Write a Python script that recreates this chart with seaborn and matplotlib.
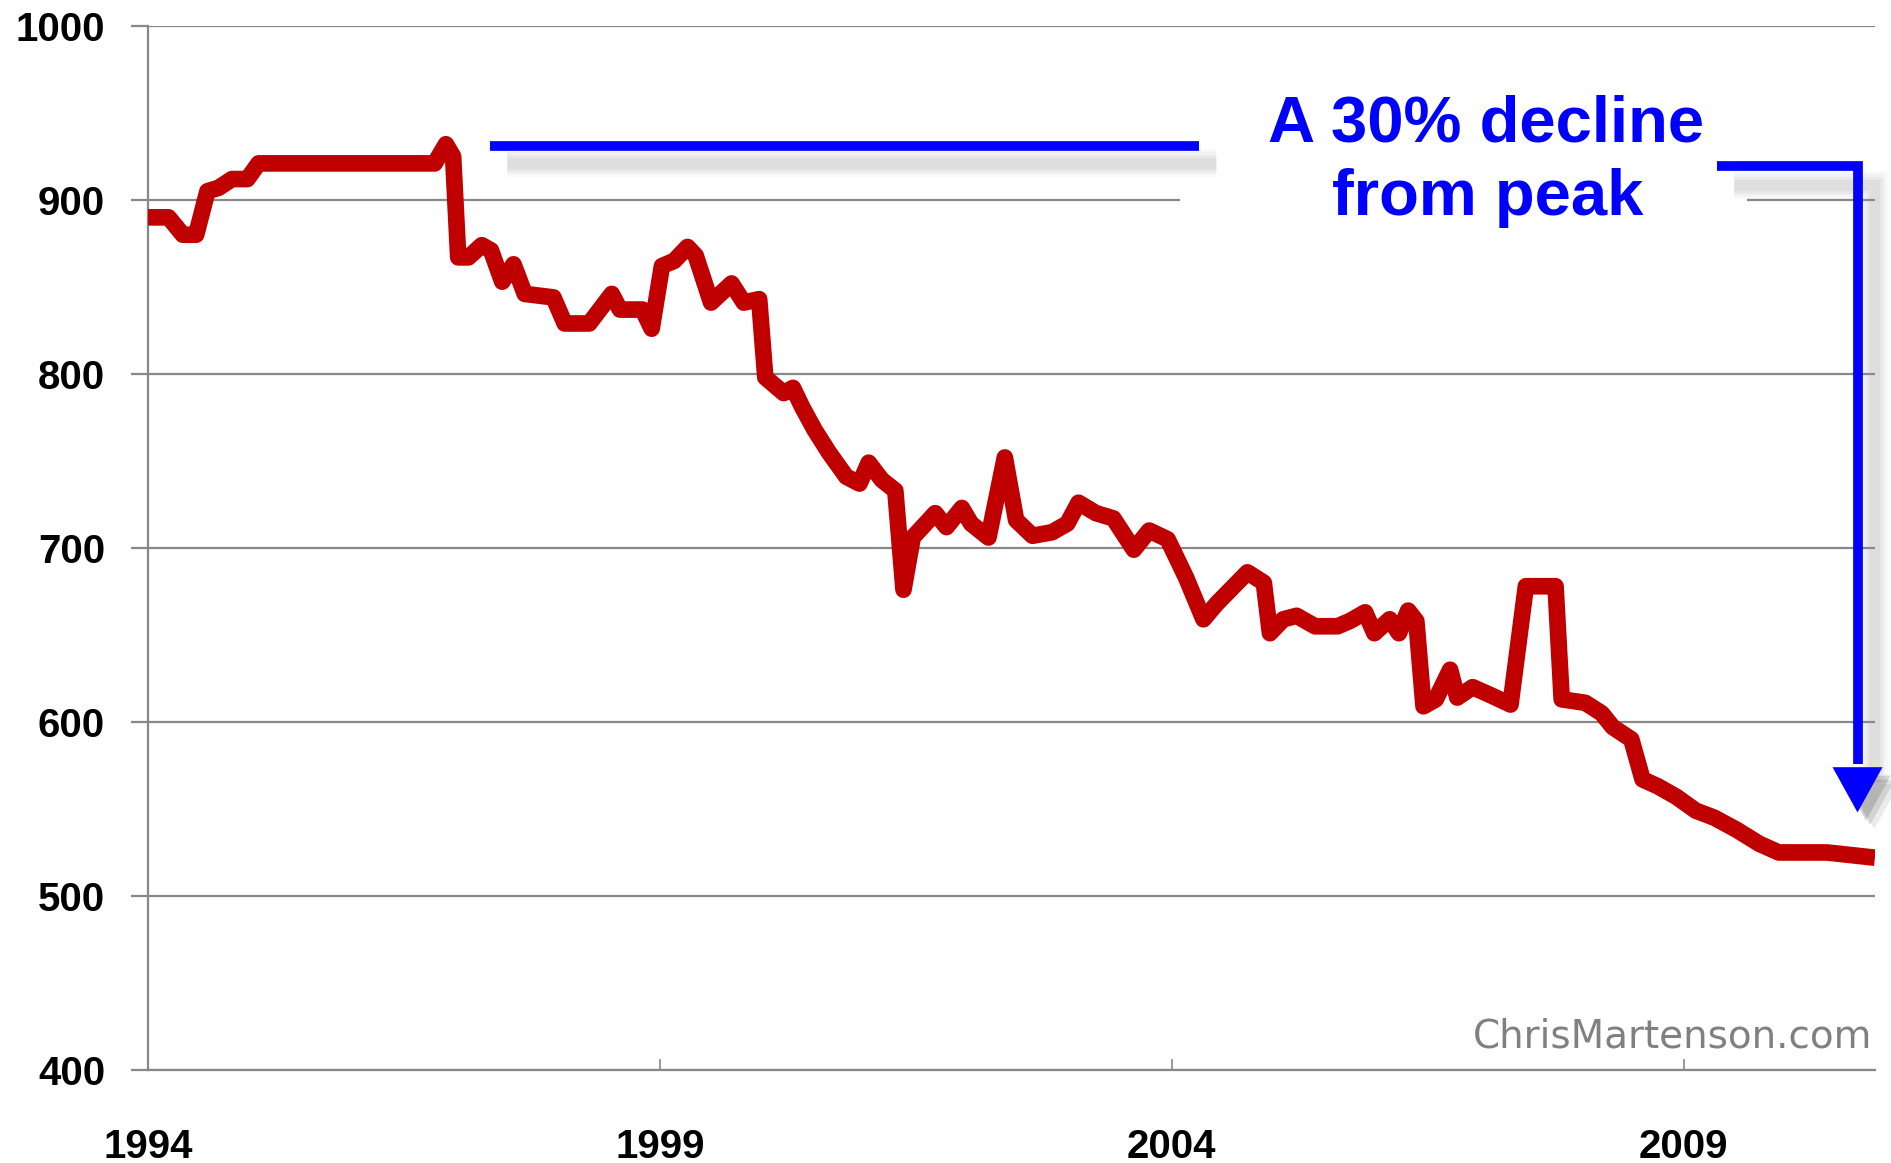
import numpy as np
import pandas as pd
import seaborn as sns
import matplotlib.pyplot as plt
import matplotlib.patheffects as pe
from matplotlib.patches import Rectangle

# ------------------- Data -------------------
years = [1994.00, 1994.20, 1994.34, 1994.47, 1994.58, 1994.69, 1994.82, 1994.97,
         1995.08, 1996.80, 1996.91, 1996.98, 1997.03, 1997.13, 1997.26, 1997.35,
         1997.46, 1997.57, 1997.68, 1997.96, 1998.07, 1998.31, 1998.53, 1998.61,
         1998.83, 1998.92, 1999.02, 1999.14, 1999.27, 1999.35, 1999.50, 1999.70,
         1999.82, 1999.97, 2000.03, 2000.21, 2000.30, 2000.39, 2000.51, 2000.65,
         2000.82, 2000.95, 2001.04, 2001.17, 2001.30, 2001.38, 2001.47, 2001.69,
         2001.80, 2001.95, 2002.04, 2002.21, 2002.37, 2002.48, 2002.64, 2002.83,
         2002.98, 2003.09, 2003.26, 2003.43, 2003.63, 2003.78, 2003.96, 2004.14,
         2004.31, 2004.44, 2004.74, 2004.90, 2004.96, 2005.09, 2005.22, 2005.40,
         2005.62, 2005.74, 2005.89, 2005.98, 2006.13, 2006.22, 2006.31, 2006.39,
         2006.46, 2006.58, 2006.72, 2006.79, 2006.94, 2007.13, 2007.31, 2007.46,
         2007.75, 2007.81, 2008.04, 2008.20, 2008.31, 2008.49, 2008.60, 2008.75,
         2008.93, 2009.12, 2009.30, 2009.52, 2009.74, 2009.93, 2010.40, 2010.87]
values = [890, 890, 880, 880, 905, 907, 912, 912,
          921, 921, 932, 925, 867, 867, 874, 871,
          853, 863, 846, 844, 829, 829, 846, 837,
          837, 826, 862, 865, 873, 868, 841, 852,
          841, 843, 798, 789, 792, 781, 768, 755,
          741, 737, 749, 739, 733, 676, 706, 720,
          712, 723, 714, 706, 752, 716, 707, 709,
          714, 726, 720, 717, 699, 710, 705, 683,
          659, 668, 686, 680, 651, 659, 661, 655,
          655, 658, 663, 651, 659, 651, 664, 658,
          609, 613, 630, 614, 620, 615, 610, 678,
          678, 613, 611, 605, 597, 590, 567, 563,
          557, 549, 545, 538, 530, 525, 525, 522]

y_ticks = [400, 500, 600, 700, 800, 900, 1000]
x_ticks = [1994, 1999, 2004, 2009]
x_labels = ["1994", "1999", "2004", "2009"]

peak_level = 931
bracket_level = 919.5
arrow_x = 2010.70
arrow_tip = 548
arrow_base = 574

df = pd.DataFrame({"year": years, "value": values})

# ------------------- Style -------------------
sns.set_style("white")
plt.rcParams['font.family'] = ['Liberation Sans', 'DejaVu Sans']

GRID = '#888888'
BLUE = '#0000FF'

fig = plt.figure(figsize=(18.91, 11.63), dpi=100)
ax = fig.add_axes([0.0783, 0.0800, 0.9132, 0.8977])

# white patch behind the annotation text (breaks the 900 gridline)
ax.add_patch(Rectangle((2004.08, 880), 5.54, 90, facecolor='white',
                       edgecolor='none', zorder=1.5))

# ------------------- Main line -------------------
sns.lineplot(data=df, x="year", y="value", ax=ax, color='#C00000',
             linewidth=12, estimator=None, sort=False, zorder=3,
             solid_joinstyle='round', solid_capstyle='butt')


def soft_shadow(dx, dy):
    # stacked translucent strokes to fake a blurred drop shadow
    fx = []
    for w, a in [(20, 0.06), (16, 0.08), (12, 0.10), (8, 0.12)]:
        fx.append(pe.SimpleLineShadow(offset=(dx, dy), shadow_color='#999999',
                                      alpha=a, linewidth=w))
    fx.append(pe.Normal())
    return fx


# top blue line at the peak level
ax.plot([1997.34, 2004.27], [peak_level, peak_level], color=BLUE, lw=7,
        solid_capstyle='butt', zorder=4, path_effects=soft_shadow(12, -12))

# bracket down to the arrow
ax.plot([2009.33, arrow_x, arrow_x], [bracket_level, bracket_level, arrow_base + 2],
        color=BLUE, lw=7, solid_joinstyle='miter', solid_capstyle='butt',
        zorder=4, clip_on=False, path_effects=soft_shadow(12, -14))

half_w = 25 / 102.4
tri_fx = [pe.SimplePatchShadow(offset=(o, -o), shadow_rgbFace='#444444', alpha=a)
          for o, a in [(12, 0.10), (9, 0.15), (6, 0.2)]] + [pe.Normal()]
ax.fill([arrow_x - half_w, arrow_x + half_w, arrow_x],
        [arrow_base, arrow_base, arrow_tip], color=BLUE, lw=0, zorder=4,
        clip_on=False, path_effects=tri_fx)

# ------------------- Text -------------------
ax.text(2007.07, 933.3, "A 30% decline", ha='center', va='baseline',
        color=BLUE, fontsize=47, fontweight='bold', zorder=5)
ax.text(2007.09, 891.4, "from peak", ha='center', va='baseline',
        color=BLUE, fontsize=47, fontweight='bold', zorder=5)
ax.text(2010.84, 413, "ChrisMartenson.com", ha='right', va='baseline',
        color='#808080', fontsize=28, family='DejaVu Sans', zorder=5)

# ------------------- Axes -------------------
ax.set_xlim(1994, 2010.87)
ax.set_ylim(400, 1000)
ax.set_yticks(y_ticks)
ax.set_xticks(x_ticks)
ax.set_xticklabels(x_labels)
ax.set_xlabel("")
ax.set_ylabel("")

ax.set_axisbelow(True)
ax.yaxis.grid(True, color=GRID, linewidth=1.6)
ax.xaxis.grid(False)
for side in ['top', 'right']:
    ax.spines[side].set_visible(False)
for side in ['left', 'bottom']:
    ax.spines[side].set_color(GRID)
    ax.spines[side].set_linewidth(1.6)

ax.tick_params(axis='y', direction='out', length=12, width=1.6, color=GRID,
               pad=19, labelsize=29, left=True, labelcolor='black')
ax.tick_params(axis='x', direction='in', length=8, width=1.2, color=GRID,
               pad=42, labelsize=29, bottom=True, labelcolor='black')
for lab in ax.get_xticklabels() + ax.get_yticklabels():
    lab.set_fontweight('bold')

fig.savefig('out.png', dpi=100)
